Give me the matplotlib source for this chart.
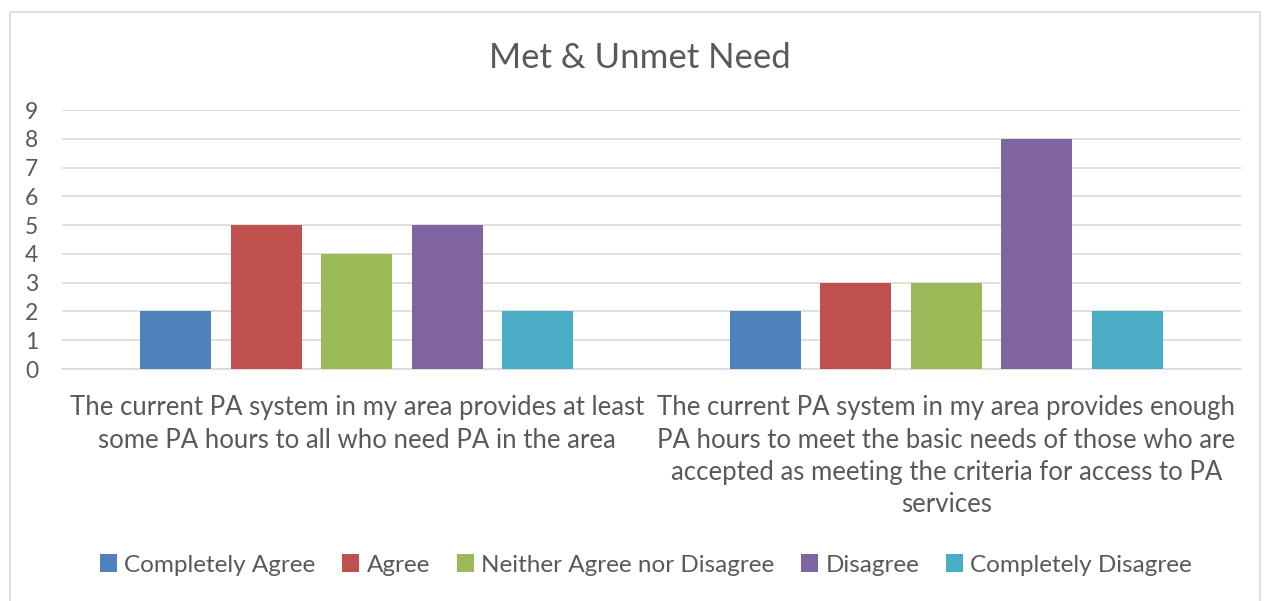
import matplotlib.pyplot as plt
from matplotlib.patches import Rectangle
import numpy as np

plt.rcParams["font.family"] = ["Lato", "DejaVu Sans"]

categories = [
    "The current PA system in my area provides at least\nsome PA hours to all who need PA in the area",
    "The current PA system in my area provides enough\nPA hours to meet the basic needs of those who are\naccepted as meeting the criteria for access to PA\nservices",
]
series_names = ["Completely Agree", "Agree", "Neither Agree nor Disagree",
                "Disagree", "Completely Disagree"]
completely_agree = [2, 2]
agree = [5, 3]
neither = [4, 3]
disagree = [5, 8]
completely_disagree = [2, 2]
series_values = [completely_agree, agree, neither, disagree, completely_disagree]
colors = ["#4F81BD", "#C0504D", "#9BBB59", "#8064A2", "#4BACC6"]
y_ticks = list(range(0, 10))

TEXT = "#595959"
GRID = "#D9D9D9"

fig = plt.figure(figsize=(12.71, 6.01), dpi=100)
fig.patches.append(Rectangle((10 / 1271, -0.01), 1250 / 1271, 1 - 12 / 601 + 0.01,
                             transform=fig.transFigure, fill=False,
                             edgecolor=GRID, linewidth=1.2))

ax = fig.add_axes([62 / 1271, 1 - 369 / 601, (1241 - 62) / 1271, (369 - 110) / 601])

x = np.arange(len(categories))
step = 0.1535
width = 0.12
for i, (name, vals, col) in enumerate(zip(series_names, series_values, colors)):
    ax.bar(x + (i - 2) * step, vals, width=width, color=col, label=name, zorder=3)

ax.set_xlim(-0.5, 1.5)
ax.set_ylim(0, 9)
ax.set_yticks(y_ticks)
ax.set_yticklabels([str(t) for t in y_ticks], fontsize=16.5, color=TEXT)
ax.set_xticks(x)
ax.set_xticklabels(categories, fontsize=18.5, color=TEXT, linespacing=1.36)
ax.tick_params(axis="both", length=0)
ax.tick_params(axis="y", pad=17)
ax.tick_params(axis="x", pad=19)
ax.grid(axis="y", color=GRID, linewidth=1.2, zorder=0)
for side in ["top", "right", "left"]:
    ax.spines[side].set_visible(False)
ax.spines["bottom"].set_color(GRID)
ax.spines["bottom"].set_linewidth(1.2)

fig.text(640 / 1271, 1 - 58 / 601, "Met & Unmet Need", ha="center", va="center",
         fontsize=25, color=TEXT)

fig.legend(loc="center", bbox_to_anchor=(646 / 1271, 1 - 565 / 601), ncol=5,
           frameon=False, fontsize=17.5, labelcolor=TEXT, handlelength=0.7,
           handleheight=0.7, handletextpad=0.3, columnspacing=1.1)

fig.savefig("out.png", dpi=100)
